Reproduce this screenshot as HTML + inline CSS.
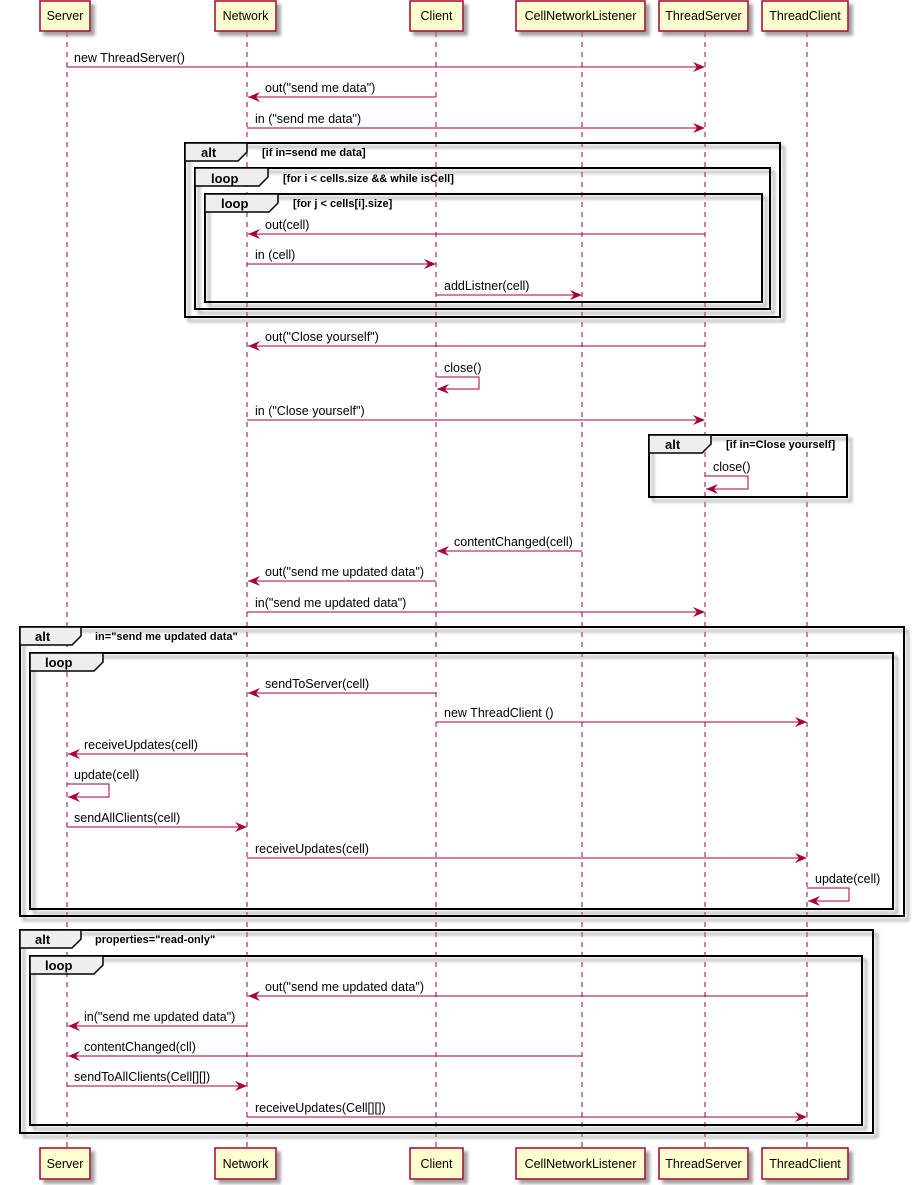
<!DOCTYPE html>
<html><head><meta charset="utf-8">
<style>
html,body{margin:0;padding:0;background:#fff;}
svg{display:block;}
text{font-family:"Liberation Sans",sans-serif;font-size:12.5px;fill:#000;}
.b{font-weight:bold;font-size:11px;}
.bt{font-weight:bold;font-size:13px;}
.ll{stroke:#A80036;stroke-width:1;stroke-dasharray:5,5;}
.m{stroke:#A80036;stroke-width:1;fill:none;}
.ah{fill:#A80036;}
.p{fill:#FEFECE;stroke:#A80036;stroke-width:1.5;}
.f{fill:none;stroke:#000;stroke-width:2;}
.tab{fill:#EEEEEE;stroke:#000;stroke-width:1.5;}
</style></head><body>
<svg width="923" height="1185" viewBox="0 0 923 1185" xmlns="http://www.w3.org/2000/svg">
<defs>
<filter id="sh" x="-10%" y="-10%" width="130%" height="140%"><feDropShadow dx="4" dy="4" stdDeviation="1.5" flood-color="#888" flood-opacity="0.8"/></filter>
</defs>
<line class="ll" x1="67" y1="32" x2="67" y2="1148"/>
<line class="ll" x1="247" y1="32" x2="247" y2="1148"/>
<line class="ll" x1="436" y1="32" x2="436" y2="1148"/>
<line class="ll" x1="582" y1="32" x2="582" y2="1148"/>
<line class="ll" x1="705" y1="32" x2="705" y2="1148"/>
<line class="ll" x1="807" y1="32" x2="807" y2="1148"/>

<g filter="url(#sh)">
<rect class="p" x="40" y="1" width="50" height="30"/>
<rect class="p" x="215" y="1" width="61" height="30"/>
<rect class="p" x="410" y="1" width="53" height="30"/>
<rect class="p" x="516" y="1" width="129" height="30"/>
<rect class="p" x="659" y="1" width="89" height="30"/>
<rect class="p" x="762" y="1" width="86" height="30"/>
<rect class="p" x="40" y="1148" width="50" height="31"/>
<rect class="p" x="215" y="1148" width="61" height="31"/>
<rect class="p" x="410" y="1148" width="53" height="31"/>
<rect class="p" x="516" y="1148" width="129" height="31"/>
<rect class="p" x="659" y="1148" width="89" height="31"/>
<rect class="p" x="762" y="1148" width="86" height="31"/>
</g>
<g>
<text x="65" y="20" text-anchor="middle">Server</text>
<text x="245.5" y="20" text-anchor="middle">Network</text>
<text x="436.5" y="20" text-anchor="middle">Client</text>
<text x="580.5" y="20" text-anchor="middle">CellNetworkListener</text>
<text x="703.5" y="20" text-anchor="middle">ThreadServer</text>
<text x="805" y="20" text-anchor="middle">ThreadClient</text>
<text x="65" y="1168" text-anchor="middle">Server</text>
<text x="245.5" y="1168" text-anchor="middle">Network</text>
<text x="436.5" y="1168" text-anchor="middle">Client</text>
<text x="580.5" y="1168" text-anchor="middle">CellNetworkListener</text>
<text x="703.5" y="1168" text-anchor="middle">ThreadServer</text>
<text x="805" y="1168" text-anchor="middle">ThreadClient</text>
</g>

<g filter="url(#sh)">
<rect class="f" x="185" y="143" width="595" height="174"/>
<rect class="f" x="195" y="168" width="575" height="141"/>
<rect class="f" x="205" y="194" width="557" height="108"/>
<rect class="f" x="649" y="435" width="198" height="62"/>
<rect class="f" x="20" y="627" width="884" height="289"/>
<rect class="f" x="30" y="653" width="863" height="256"/>
<rect class="f" x="20" y="930" width="853" height="203"/>
<rect class="f" x="30" y="956" width="832" height="169"/>
</g>
<path class="tab" d="M185,143 H247 V152 L238,161 H185 Z"/>
<text class="bt" x="201" y="157">alt</text>
<text class="b" x="262" y="156">[if in=send me data]</text>
<path class="tab" d="M195,168 H268 V177 L259,186 H195 Z"/>
<text class="bt" x="211" y="183">loop</text>
<text class="b" x="283" y="182">[for i &lt; cells.size &amp;&amp; while isCell]</text>
<path class="tab" d="M205,194 H278 V203 L269,212 H205 Z"/>
<text class="bt" x="221" y="208">loop</text>
<text class="b" x="293" y="207">[for j &lt; cells[i].size]</text>
<path class="tab" d="M649,435 H711 V444 L702,453 H649 Z"/>
<text class="bt" x="665" y="449">alt</text>
<text class="b" x="726" y="448">[if in=Close yourself]</text>
<path class="tab" d="M20,627 H81 V636 L72,645 H20 Z"/>
<text class="bt" x="35" y="641">alt</text>
<text class="b" x="95" y="640">in="send me updated data"</text>
<path class="tab" d="M30,653 H103 V662 L94,671 H30 Z"/>
<text class="bt" x="45" y="667">loop</text>
<path class="tab" d="M20,930 H81 V939 L72,948 H20 Z"/>
<text class="bt" x="35" y="944">alt</text>
<text class="b" x="95" y="943">properties="read-only"</text>
<path class="tab" d="M30,956 H103 V965 L94,974 H30 Z"/>
<text class="bt" x="45" y="970">loop</text>

<g>
<line class="m" x1="67" y1="67" x2="704" y2="67"/><polygon class="ah" points="693,62 705,67 693,72 697,67"/><text x="74" y="62">new ThreadServer()</text>
<line class="m" x1="248" y1="97" x2="436" y2="97"/><polygon class="ah" points="260,92 248,97 260,102 256,97"/><text x="265" y="92">out("send me data")</text>
<line class="m" x1="247" y1="128" x2="704" y2="128"/><polygon class="ah" points="693,123 705,128 693,133 697,128"/><text x="255" y="123">in ("send me data")</text>
<line class="m" x1="248" y1="234" x2="705" y2="234"/><polygon class="ah" points="260,229 248,234 260,239 256,234"/><text x="265" y="229">out(cell)</text>
<line class="m" x1="247" y1="264" x2="435" y2="264"/><polygon class="ah" points="424,259 436,264 424,269 428,264"/><text x="255" y="259">in (cell)</text>
<line class="m" x1="436" y1="295" x2="581" y2="295"/><polygon class="ah" points="570,290 582,295 570,300 574,295"/><text x="444" y="290">addListner(cell)</text>
<line class="m" x1="248" y1="346" x2="705" y2="346"/><polygon class="ah" points="260,341 248,346 260,351 256,346"/><text x="265" y="341">out("Close yourself")</text>
<polyline class="m" points="436,377 479,377 479,389 437,389"/><polygon class="ah" points="449,384 437,389 449,394 445,389"/><text x="444" y="372">close()</text>
<line class="m" x1="247" y1="420" x2="704" y2="420"/><polygon class="ah" points="693,415 705,420 693,425 697,420"/><text x="255" y="415">in ("Close yourself")</text>
<polyline class="m" points="705,476 748,476 748,489 706,489"/><polygon class="ah" points="718,484 706,489 718,494 714,489"/><text x="713" y="471">close()</text>
<line class="m" x1="437" y1="551" x2="582" y2="551"/><polygon class="ah" points="449,546 437,551 449,556 445,551"/><text x="454" y="546">contentChanged(cell)</text>
<line class="m" x1="248" y1="581" x2="436" y2="581"/><polygon class="ah" points="260,576 248,581 260,586 256,581"/><text x="265" y="576">out("send me updated data")</text>
<line class="m" x1="247" y1="612" x2="704" y2="612"/><polygon class="ah" points="693,607 705,612 693,617 697,612"/><text x="255" y="607">in("send me updated data")</text>
<line class="m" x1="248" y1="693" x2="436" y2="693"/><polygon class="ah" points="260,688 248,693 260,698 256,693"/><text x="265" y="688">sendToServer(cell)</text>
<line class="m" x1="436" y1="722" x2="806" y2="722"/><polygon class="ah" points="795,717 807,722 795,727 799,722"/><text x="444" y="717">new ThreadClient ()</text>
<line class="m" x1="68" y1="754" x2="247" y2="754"/><polygon class="ah" points="80,749 68,754 80,759 76,754"/><text x="84" y="749">receiveUpdates(cell)</text>
<polyline class="m" points="67,784 109,784 109,797 68,797"/><polygon class="ah" points="80,792 68,797 80,802 76,797"/><text x="74" y="779">update(cell)</text>
<line class="m" x1="67" y1="827" x2="246" y2="827"/><polygon class="ah" points="235,822 247,827 235,832 239,827"/><text x="74" y="822">sendAllClients(cell)</text>
<line class="m" x1="247" y1="858" x2="806" y2="858"/><polygon class="ah" points="795,853 807,858 795,863 799,858"/><text x="255" y="853">receiveUpdates(cell)</text>
<polyline class="m" points="807,888 849,888 849,901 808,901"/><polygon class="ah" points="820,896 808,901 820,906 816,901"/><text x="815" y="883">update(cell)</text>
<line class="m" x1="248" y1="996" x2="807" y2="996"/><polygon class="ah" points="260,991 248,996 260,1001 256,996"/><text x="265" y="991">out("send me updated data")</text>
<line class="m" x1="68" y1="1026" x2="247" y2="1026"/><polygon class="ah" points="80,1021 68,1026 80,1031 76,1026"/><text x="84" y="1021">in("send me updated data")</text>
<line class="m" x1="68" y1="1056" x2="582" y2="1056"/><polygon class="ah" points="80,1051 68,1056 80,1061 76,1056"/><text x="84" y="1051">contentChanged(cll)</text>
<line class="m" x1="67" y1="1086" x2="246" y2="1086"/><polygon class="ah" points="235,1081 247,1086 235,1091 239,1086"/><text x="74" y="1081">sendToAllClients(Cell[][])</text>
<line class="m" x1="247" y1="1117" x2="806" y2="1117"/><polygon class="ah" points="795,1112 807,1117 795,1122 799,1117"/><text x="255" y="1112">receiveUpdates(Cell[][])</text>
</g>
</svg>
</body></html>
